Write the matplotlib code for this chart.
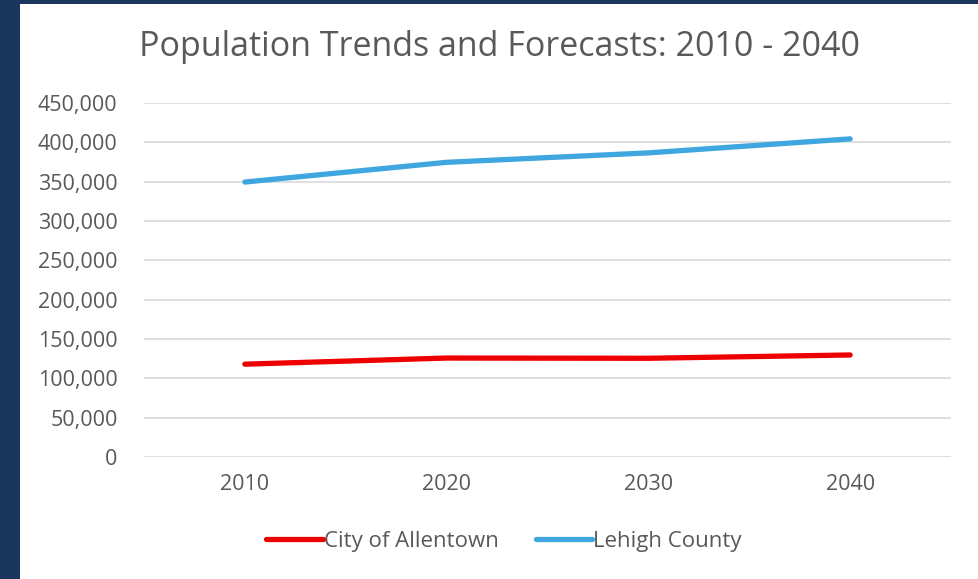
import matplotlib.pyplot as plt
from matplotlib.patches import Rectangle
from matplotlib.ticker import FuncFormatter

years = ["2010", "2020", "2030", "2040"]
allentown = [118000, 125800, 125500, 129700]
lehigh = [349500, 374600, 386600, 404400]

W, H = 979, 579
TEXT = "#595959"
plt.rcParams["font.family"] = ["Open Sans", "DejaVu Sans"]

fig = plt.figure(figsize=(W / 100, H / 100), dpi=100)
fig.patch.set_facecolor("#1b365d")
# white chart panel on the dark slide background
fig.patches.append(Rectangle((20 / W, 0), 1 - 20 / W, 1 - 4 / H, transform=fig.transFigure,
                             facecolor="white", edgecolor="none", zorder=-5))

ax = fig.add_axes([144 / W, 1 - 457 / H, (951 - 144) / W, (457 - 103) / H])
ax.set_facecolor("none")
x = range(len(years))
ax.plot(x, allentown, color="#ee0000", lw=3.8, solid_capstyle="round", label="City of Allentown")
ax.plot(x, lehigh, color="#40a6df", lw=3.8, solid_capstyle="round", label="Lehigh County")

ax.set_xlim(-0.5, 3.5)
ax.set_ylim(0, 450000)
ax.set_yticks(range(0, 450001, 50000))
ax.yaxis.set_major_formatter(FuncFormatter(lambda v, p: f"{int(v):,}"))
ax.set_xticks(list(x))
ax.set_xticklabels(years)
ax.grid(axis="y", color="#d9d9d9", lw=1.2)
ax.set_axisbelow(True)
for s in ax.spines.values():
    s.set_visible(False)
ax.tick_params(length=0, colors=TEXT, labelsize=15.5)
ax.tick_params(axis="y", pad=19)
ax.tick_params(axis="x", pad=12)

fig.text(500 / W, 1 - 47 / H, "Population Trends and Forecasts: 2010 - 2040", ha="center", va="center",
         fontsize=24.5, color=TEXT)

leg = fig.legend(loc="center", bbox_to_anchor=(504 / W, 1 - 541 / H), ncol=2, frameon=False,
                 fontsize=16, handlelength=2.55, handletextpad=0.05, columnspacing=1.65)
for t in leg.get_texts():
    t.set_color(TEXT)

fig.savefig("out.png", dpi=100, facecolor=fig.get_facecolor())
